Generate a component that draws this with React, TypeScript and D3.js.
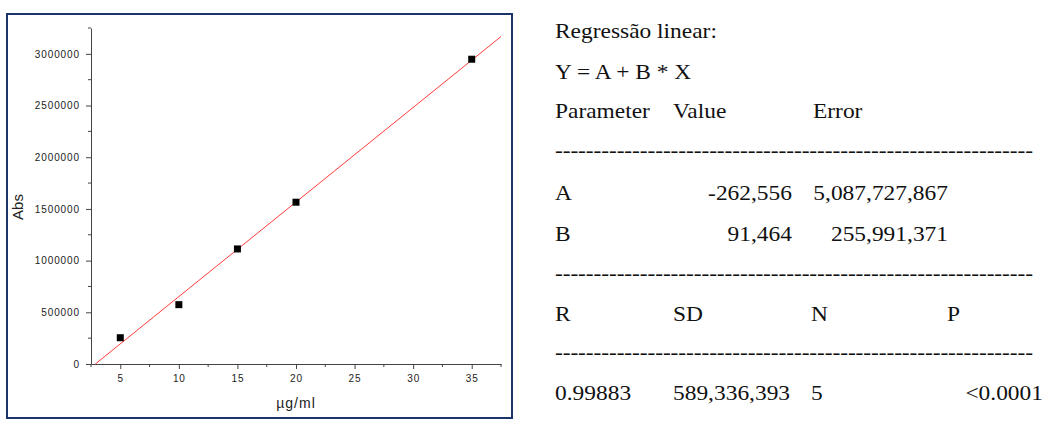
import { useEffect, useRef } from "react";
import * as d3 from "d3";

// calibration points
const concentrations = [5, 10, 15, 20, 35];
const absValues = [254000, 574000, 1113000, 1565000, 2948000];

// regression parameters (from the fit table)
const interceptA = -262556;
const slopeB = 91464;

const xTicks = [5, 10, 15, 20, 25, 30, 35];
const yTicks = [0, 500000, 1000000, 1500000, 2000000, 2500000, 3000000];

// right-hand text block
const headerLines = ["Regressão linear:", "Y = A + B * X"];
const tableHead = ["Parameter", "Value", "Error"];
const paramNames = ["A", "B"];
const paramValues = ["-262,556", "91,464"];
const paramErrors = ["5,087,727,867", "255,991,371"];
const statHead = ["R", "SD", "N", "P"];
const statValues = ["0.99883", "589,336,393", "5", "<0.0001"];

export default function App() {
  const ref = useRef<SVGSVGElement>(null);

  useEffect(() => {
    const svg = d3.select(ref.current);
    svg.selectAll("*").remove();

    const x = d3.scaleLinear().domain([2.5, 37.5]).range([91, 501]);
    const y = d3.scaleLinear().domain([0, 3250000]).range([364, 28]);

    // frame
    svg
      .append("rect")
      .attr("x", 7)
      .attr("y", 14)
      .attr("width", 505)
      .attr("height", 404)
      .attr("fill", "none")
      .attr("stroke", "#1d3468")
      .attr("stroke-width", 2);

    const tickFont = "'Liberation Sans', Arial, sans-serif";
    const axisColor = "#444";

    // minor ticks
    const yMinor = d3.range(250000, 3250001, 500000);
    const xMinor = d3.range(2.5, 37.6, 5);

    const yAxis = svg
      .append("g")
      .attr("transform", `translate(${x(2.5)},0)`)
      .call(
        d3
          .axisLeft(y)
          .tickValues(yTicks)
          .tickSize(5)
          .tickSizeOuter(0)
          .tickPadding(6)
          .tickFormat((d) => String(d))
      );
    yAxis
      .selectAll(".minor")
      .data(yMinor)
      .enter()
      .append("line")
      .attr("class", "minor")
      .attr("x1", 0)
      .attr("x2", -3)
      .attr("y1", (d) => y(d))
      .attr("y2", (d) => y(d));

    const xAxis = svg
      .append("g")
      .attr("transform", `translate(0,${y(0)})`)
      .call(
        d3
          .axisBottom(x)
          .tickValues(xTicks)
          .tickSize(5)
          .tickSizeOuter(0)
          .tickPadding(6)
          .tickFormat((d) => String(d))
      );
    xAxis
      .selectAll(".minor")
      .data(xMinor)
      .enter()
      .append("line")
      .attr("class", "minor")
      .attr("y1", 0)
      .attr("y2", 3)
      .attr("x1", (d) => x(d))
      .attr("x2", (d) => x(d));

    [yAxis, xAxis].forEach((ax) => {
      ax.selectAll("path, line").attr("stroke", axisColor).attr("stroke-width", 1);
      ax.selectAll("text")
        .attr("fill", "#222")
        .style("font-family", tickFont)
        .style("font-size", "10px")
        .style("letter-spacing", "0.9px");
    });

    // regression line
    const xStart = -interceptA / slopeB;
    const xEnd = 37.5;
    svg
      .append("line")
      .attr("x1", x(xStart))
      .attr("y1", y(interceptA + slopeB * xStart))
      .attr("x2", x(xEnd))
      .attr("y2", y(interceptA + slopeB * xEnd))
      .attr("stroke", "#ff3b3b")
      .attr("stroke-width", 1);

    // data points
    svg
      .selectAll(".pt")
      .data(concentrations)
      .enter()
      .append("rect")
      .attr("class", "pt")
      .attr("x", (d) => x(d) - 3.5)
      .attr("y", (_, i) => y(absValues[i]) - 3.5)
      .attr("width", 7)
      .attr("height", 7)
      .attr("fill", "#000");

    // axis titles
    svg
      .append("text")
      .attr("transform", `translate(22.5,207) rotate(-90)`)
      .attr("text-anchor", "middle")
      .style("font-family", tickFont)
      .style("font-size", "15px")
      .attr("fill", "#222")
      .text("Abs");
    svg
      .append("text")
      .attr("x", 296)
      .attr("y", 408)
      .attr("text-anchor", "middle")
      .style("font-family", tickFont)
      .style("font-size", "14px")
      .style("letter-spacing", "1px")
      .attr("fill", "#222")
      .text("µg/ml");

    // text block on the right
    const sx = 1.09;
    const tb = svg
      .append("g")
      .attr("transform", `scale(${sx},1)`)
      .style("font-family", "'Liberation Serif', 'Times New Roman', serif")
      .style("font-size", "21.5px")
      .attr("fill", "#111");

    const put = (txt: string, px: number, base: number, anchor = "start") =>
      tb
        .append("text")
        .attr("x", px / sx)
        .attr("y", base)
        .attr("text-anchor", anchor)
        .text(txt);

    const dashes = (base: number) =>
      tb
        .append("text")
        .attr("x", 555 / sx)
        .attr("y", base)
        .attr("textLength", 478 / sx)
        .attr("lengthAdjust", "spacing")
        .text("-".repeat(62));

    put(headerLines[0], 555, 38);
    put(headerLines[1], 555, 79);
    put(tableHead[0], 555, 118);
    put(tableHead[1], 673, 118);
    put(tableHead[2], 813, 118);
    dashes(157);
    paramNames.forEach((n, i) => {
      const base = 200 + i * 41;
      put(n, 555, base);
      put(paramValues[i], 792, base, "end");
      put(paramErrors[i], 948, base, "end");
    });
    dashes(280);
    put(statHead[0], 555, 321);
    put(statHead[1], 673, 321);
    put(statHead[2], 811, 321);
    put(statHead[3], 947, 321);
    dashes(359);
    put(statValues[0], 555, 400);
    put(statValues[1], 673, 400);
    put(statValues[2], 811, 400);
    put(statValues[3], 1043, 400, "end");
  }, []);

  return (
    <svg
      ref={ref}
      width={1049}
      height={430}
      style={{ position: "absolute", left: 0, top: 0, background: "#fff" }}
    />
  );
}
